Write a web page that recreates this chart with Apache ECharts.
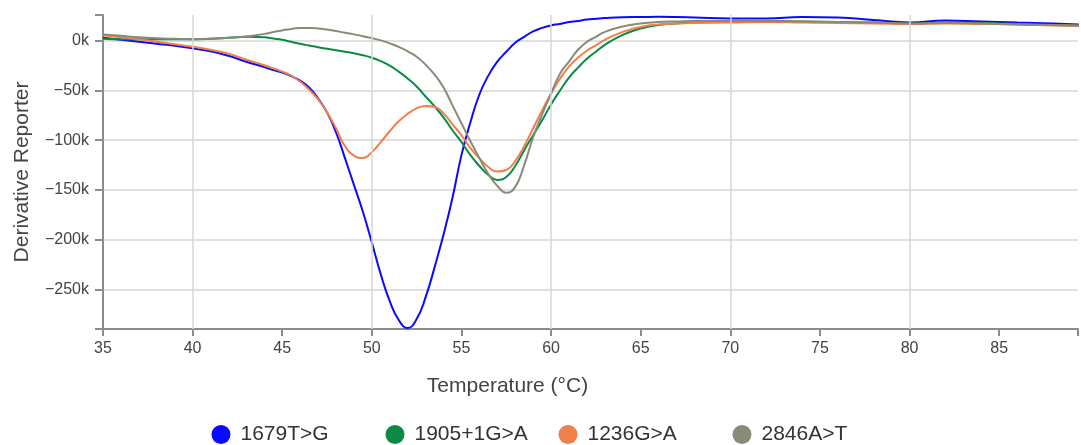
<!DOCTYPE html>
<html><head><meta charset="utf-8">
<script src="https://cdn.jsdelivr.net/npm/echarts@6/dist/echarts.min.js"></script>
<style>html,body{margin:0;padding:0;background:#fff}#c{width:1081px;height:445px}</style>
</head><body><div id="c"></div>
<script>
// Temperature (°C) sample points
const temps = [35,36,37,38,39,40,41,42,43,44,44.5,45,45.5,46,46.5,47,47.5,48,48.5,49,49.5,50,50.5,51,51.5,52,52.5,53,53.5,54,54.5,55,55.5,56,56.5,57,57.5,58,58.5,59,59.5,60,60.5,61,61.5,62,62.5,63,64,65,66,67,68,70,72,74,76,78,80,82,84,86,88,89.5];
// Derivative reporter values, in thousands
const s1679T_G = [3,1,-1,-3,-5,-7.5,-10.5,-15,-21,-26.5,-29.5,-32,-35.5,-40,-47,-58,-72,-92,-118,-145,-172,-203,-235,-262,-281,-289,-280,-258,-228,-195,-158,-115,-82,-54,-35,-21,-11,-2,4,9.5,13,15.5,17,19,20,21.5,22.3,23,23.8,24,24.2,24,23.5,22.5,22.5,24,23.5,21,18.5,20.5,19.5,18.5,17.5,16.5];
const s1905_1G_A = [2,1.5,1.5,1.5,1.5,1.5,2,3,4,3.5,2.3,1,-1,-3,-4.8,-6.5,-8,-9.5,-11,-12.5,-14.5,-17,-20.5,-25,-31,-38,-46,-56,-66,-77,-90,-102,-115,-126,-135,-140,-137,-126,-110,-95,-80,-64,-50,-37,-27,-18,-11,-4,6,12.5,16,17.5,18.5,19.5,20,19.5,19,18.5,17.5,18.5,18,17,16,15.5];
const s1236G_A = [5.5,3.5,1.5,-1,-3.5,-6,-9,-13,-19,-24.5,-27.7,-31,-35,-41,-49,-59,-72,-88,-106,-115.5,-118,-112,-102,-91,-81,-73.5,-68,-65.5,-66.5,-73,-84,-95,-108,-118,-127,-131.5,-130,-121,-106,-88,-70,-53,-38,-26,-17,-10,-4.5,1,9,14,16.5,17.5,18,18.5,19,18.5,18,17.5,17,17.5,17,16.5,15.5,15];
const s2846A_T = [6.5,5,3.5,2.5,2,1.7,2,3,4.3,7,8.8,10.5,12,12.8,13,12.5,11.3,9.8,8.2,6.5,4.7,2.7,0.5,-2.5,-6,-10.5,-16,-24,-34,-47,-65,-83,-101,-118,-134,-146,-153,-147,-125,-97,-74,-53,-33,-21,-9,-1,4,9,14.5,17.5,19,19.5,20,20,20,19.5,19,18.5,17.5,18,17.5,16.5,16,15.5];
const seriesNames = ['1679T>G','1905+1G>A','1236G>A','2846A>T'];
const seriesValues = [s1679T_G, s1905_1G_A, s1236G_A, s2846A_T];
const verticalGridTemps = [40,50,60,70,80];

const colors = ['#0a0aff','#0b8a47','#f07f4a','#8a8a78'];
const legendCenters = [221,395,568,742];
const FONT = '"Liberation Sans", Arial, sans-serif';
const axisColor = '#8c8c8c';
const gridColor = '#d6d6d6';

const chart = echarts.init(document.getElementById('c'), null, {renderer:'canvas'});
const series = seriesNames.map((n,i)=>({
  name:n, type:'line', showSymbol:false, smooth:0.5, z:3,
  color: colors[i],
  lineStyle:{width:2, color:colors[i]},
  data: temps.map((t,j)=>[t, seriesValues[i][j]])
}));
series.unshift({
  name:'_grid', type:'line', data:[], z:1, silent:true,
  markLine:{symbol:'none', silent:true, animation:false, label:{show:false},
    lineStyle:{color:gridColor, width:1.5, type:'solid'},
    emphasis:{disabled:true},
    data: verticalGridTemps.map(t=>({xAxis:t}))}
});

chart.setOption({
  animation:false,
  textStyle:{fontFamily:FONT},
  grid:{left:103, right:0, top:15, bottom:116, containLabel:false},
  legend: seriesNames.map((n,i)=>({
    data:[{name:n, icon:'circle'}], left: legendCenters[i]-9.5, top:424, padding:0,
    itemWidth:19, itemHeight:19, itemGap:0,
    textStyle:{fontSize:21, color:'#333', fontFamily:FONT, padding:[0,0,0,5]}
  })),
  xAxis:{
    type:'value', min:35, max:89.4, interval:5,
    name:'Temperature (°C)', nameLocation:'middle', nameGap:47,
    nameTextStyle:{fontSize:21, color:'#444', fontFamily:FONT, padding:[0,166,0,0]},
    axisLine:{show:true, onZero:false, lineStyle:{color:axisColor, width:2}},
    axisTick:{show:true, length:7, lineStyle:{color:axisColor, width:2}},
    axisLabel:{fontSize:16, color:'#444', margin:12, fontFamily:FONT,
      formatter:v=> (Math.abs(v%5)<1e-9 ? String(v) : '')},
    splitLine:{show:false}
  },
  yAxis:{
    type:'value', min:-290, max:26,
    name:'Derivative Reporter', nameLocation:'middle', nameGap:70,
    nameTextStyle:{fontSize:21, color:'#444', fontFamily:FONT},
    axisLine:{show:true, onZero:false, lineStyle:{color:axisColor, width:2}},
    axisTick:{show:true, length:8, lineStyle:{color:axisColor, width:2}},
    axisLabel:{fontSize:16, color:'#444', margin:14, fontFamily:FONT,
      formatter:v=> (Math.abs(v%50)<1e-9 ? (v<0 ? '\u2212'+Math.abs(v) : String(v))+'k' : '')},
    splitLine:{show:true, showMinLine:false, showMaxLine:false, lineStyle:{color:gridColor, width:1.5}}
  },
  series: series
});
</script>
</body></html>
